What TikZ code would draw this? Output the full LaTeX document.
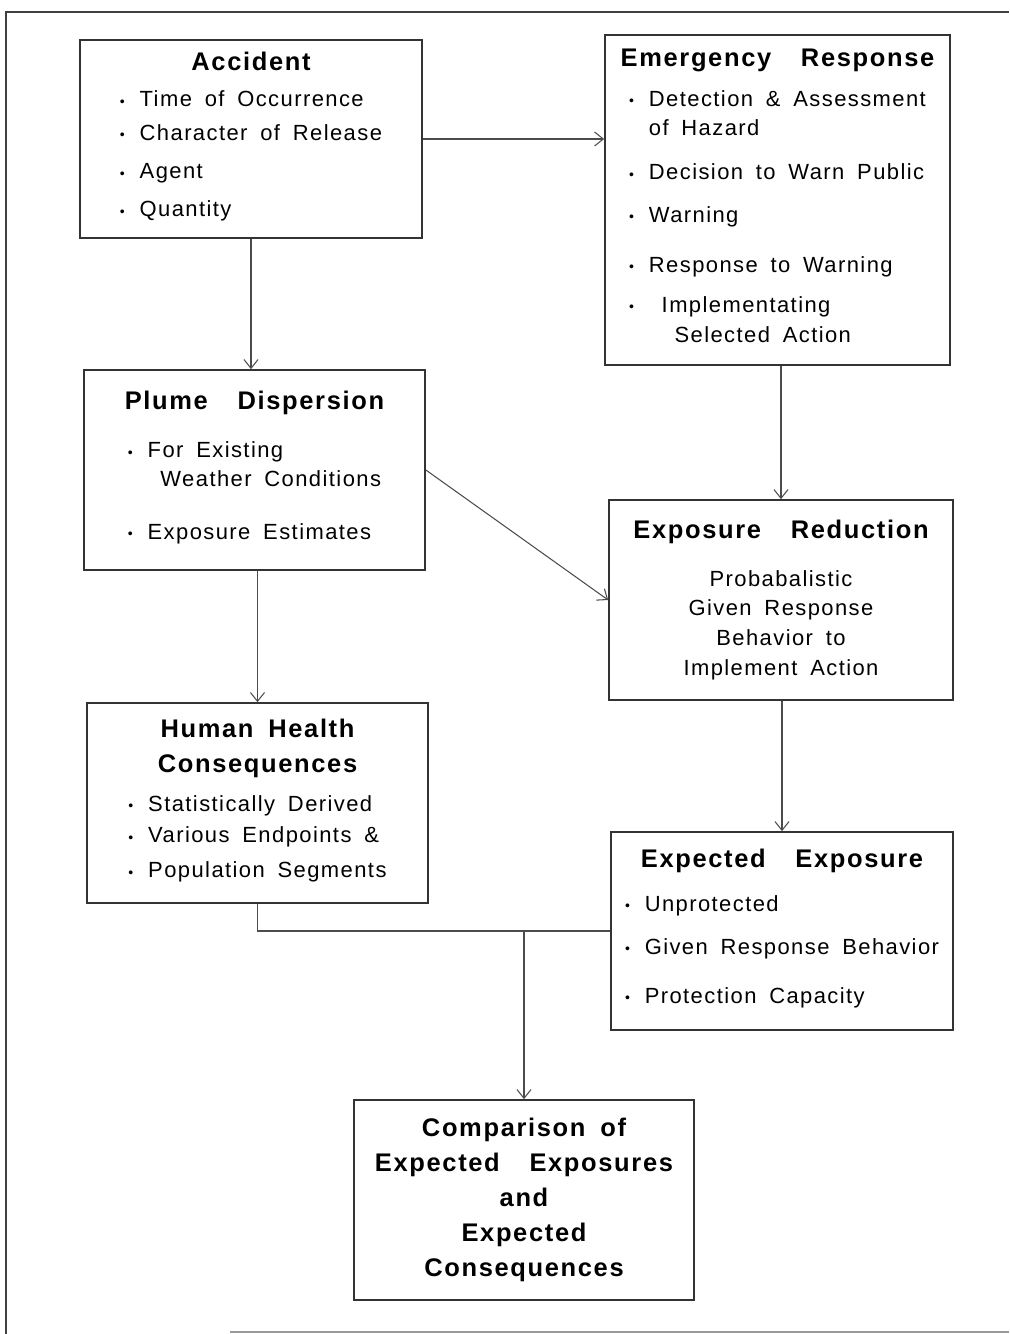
\documentclass[tikz,border=0pt]{standalone}
\usepackage{fontspec}
\setmainfont{Liberation Sans}[LetterSpace=6.5,WordSpace=1.7]
\usetikzlibrary{arrows.meta}

\newcommand{\hd}[1]{{\fontsize{14.5}{20}\selectfont\bfseries #1}}
\newcommand{\bul}{\makebox[0.9em][l]{\raisebox{0.05ex}{\footnotesize\textbullet}}}
\newcommand{\cont}{\hspace*{0.9em}}

\begin{document}
\begin{tikzpicture}[x=0.02cm,y=-0.02cm,
    box/.style={draw=black!80,line width=1pt,inner sep=0pt,align=center,
      font=\fontsize{12.5}{18}\selectfont},
    link/.style={draw=black!70,line width=0.6pt,-{Straight Barb[length=5pt,width=8pt]}},
    frame/.style={draw=black!75,line width=1.2pt}]
    \useasboundingbox (0,0) rectangle (1009,1334);
    % outer frame of the scan
    \draw[frame] (5,12) -- (1009,12);
    \draw[frame] (6,12) -- (6,1334);
    \draw[frame,draw=black!40] (230,1332) -- (1009,1332);

    % boxes
    \node[box,minimum width=6.84cm,minimum height=3.96cm] (acc) at (251,139)
      {\hd{Accident}\\[3pt]
       \begin{tabular}[t]{@{}l@{}}
       \bul Time of Occurrence\\[1pt]
       \bul Character of Release\\[4pt]
       \bul Agent\\[3.6pt]
       \bul Quantity
       \end{tabular}};
    \node[box,minimum width=6.9cm,minimum height=6.6cm] (emr) at (777.5,200)
      {\hd{Emergency\ \ Response}\\[4.8pt]
       \begin{tabular}[t]{@{}l@{}}
       \bul Detection \& Assessment\\[-1pt]
       \cont of Hazard\\[7pt]
       \bul Decision to Warn Public\\[6pt]
       \bul Warning\\[10.5pt]
       \bul Response to Warning\\[4.8pt]
       \bul\ Implementating\\[-1pt]
       \cont\ \ Selected Action
       \end{tabular}};
    \node[box,minimum width=6.82cm,minimum height=4cm] (pd) at (254.5,470)
      {\hd{Plume\ \ Dispersion}\\[9.3pt]
       \begin{tabular}[t]{@{}l@{}}
       \bul For Existing\\[-1.5pt]
       \cont\ Weather Conditions\\[12pt]
       \bul Exposure Estimates
       \end{tabular}};
    \node[box,minimum width=6.88cm,minimum height=4cm] (exr) at (781,600)
      {\hd{Exposure\ \ Reduction}\\[9.3pt]
       Probabalistic\\[-1.5pt]
       Given Response\\[-1pt]
       Behavior to\\[-1pt]
       Implement Action};
    \node[box,minimum width=6.82cm,minimum height=4cm] (hh) at (257.5,803)
      {\hd{Human Health}\\[2pt]
       \hd{Consequences}\\[4pt]
       \begin{tabular}[t]{@{}l@{}}
       \bul Statistically Derived\\
       \bul Various Endpoints \&\\[2pt]
       \bul Population Segments
       \end{tabular}};
    \node[box,minimum width=6.84cm,minimum height=3.96cm] (ee) at (782,931)
      {\hd{Expected\ \ Exposure}\\[7pt]
       \begin{tabular}[t]{@{}l@{}}
       \bul Unprotected\\[6.5pt]
       \bul Given Response Behavior\\[10pt]
       \bul Protection Capacity
       \end{tabular}};
    \node[box,minimum width=6.8cm,minimum height=4cm] (cmp) at (524,1200)
      {\hd{Comparison of}\\[2pt]
       \hd{Expected\ \ Exposures}\\[2pt]
       \hd{and}\\[2pt]
       \hd{Expected}\\[2pt]
       \hd{Consequences}};

    % connectors
    \draw[link] (acc.east) -- (acc.east -| emr.west);
    \draw[link] (acc.south) -- (acc.south |- pd.north);
    \draw[link] (exr.north |- emr.south) -- (exr.north);
    \draw[link] (pd.east) -- (exr.west);
    \draw[link] (hh.north |- pd.south) -- (hh.north);
    \draw[link] (ee.north |- exr.south) -- (ee.north);
    \draw[draw=black!70,line width=0.6pt] (hh.south) |- (ee.west);
    \draw[link] (cmp.north |- ee.west) -- (cmp.north);
\end{tikzpicture}
\end{document}
